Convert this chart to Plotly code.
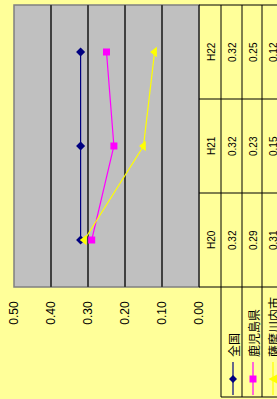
import plotly.graph_objects as go

# ---- data ----
categories = ["H20", "H21", "H22"]
series_names = ["全国", "鹿児島県", "薩摩川内市"]
zenkoku = [0.32, 0.32, 0.32]
kagoshima = [0.29, 0.23, 0.25]
satsumasendai = [0.31, 0.15, 0.12]
value_ticks = [0.0, 0.1, 0.2, 0.3, 0.4, 0.5]

series_values = [zenkoku, kagoshima, satsumasendai]
colors = ["#000080", "#FF00FF", "#FFFF00"]
symbols = ["diamond", "square", "triangle-left"]
msizes = [7, 7, 9]

FIG_W, FIG_H = 277, 399
L, T, R, B = 14, 5, 199, 287
PW, PH = R - L, B - T


def X(px):
    return (px - L) / PW


def Y(py):
    return (B - py) / PH


fig = go.Figure()
for name, vals, c, s, ms in zip(series_names, series_values, colors, symbols, msizes):
    fig.add_trace(go.Scatter(
        x=vals, y=categories, mode="lines+markers", name=name,
        line=dict(color=c, width=1.2),
        marker=dict(symbol=s, size=ms, color=c, line=dict(width=0)),
        showlegend=False, cliponaxis=False,
    ))

shapes = []
annotations = []
LINE = dict(color="#000000", width=1)

# plot frame
shapes.append(dict(type="rect", xref="paper", yref="paper", x0=0, x1=1, y0=0, y1=1,
                   line=dict(color="#808080", width=1.5), layer="below"))

# table grid
row_y = [T, 99, 193, B]
for xv in [221, 242, 262]:
    shapes.append(dict(type="line", xref="paper", yref="paper",
                       x0=X(xv), x1=X(xv), y0=Y(T), y1=Y(397), line=LINE))
shapes.append(dict(type="line", xref="paper", yref="paper",
                   x0=X(R), x1=X(R), y0=Y(T), y1=Y(B), line=LINE))
for yv in row_y:
    shapes.append(dict(type="line", xref="paper", yref="paper",
                       x0=X(R), x1=X(FIG_W + 2), y0=Y(yv), y1=Y(yv), line=LINE))
shapes.append(dict(type="line", xref="paper", yref="paper",
                   x0=X(221), x1=X(FIG_W + 2), y0=Y(397), y1=Y(397), line=LINE))

TXT = dict(family="Liberation Sans, Arial, sans-serif", size=10, color="#000000")
col_centers = [211, 232, 253, 273]
for i, cat in enumerate(categories):
    annotations.append(dict(x=X(col_centers[0]), y=cat, xref="paper", yref="y",
                            text=cat, textangle=-90, showarrow=False, font=TXT,
                            xanchor="center", yanchor="middle"))
    for j, vals in enumerate(series_values):
        annotations.append(dict(x=X(col_centers[j + 1]), y=cat, xref="paper", yref="y",
                                text=f"{vals[i]:.2f}", textangle=-90, showarrow=False,
                                font=TXT, xanchor="center", yanchor="middle"))

# legend cells
leg_x = [233, 253, 273]
for name, c, s, lx in zip(series_names, colors, symbols, leg_x):
    annotations.append(dict(x=X(lx), y=Y(359), xref="paper", yref="paper",
                            text=name, textangle=-90, showarrow=False,
                            font=dict(family="Noto Sans CJK JP", size=12, color="#000000"),
                            xanchor="center", yanchor="bottom"))
    shapes.append(dict(type="line", xref="paper", yref="paper",
                       x0=X(lx), x1=X(lx), y0=Y(362), y1=Y(395),
                       line=dict(color=c, width=1.2)))
    cy = 379
    if s == "diamond":
        path = (f"M {X(lx)},{Y(cy-4)} L {X(lx+4)},{Y(cy)} L {X(lx)},{Y(cy+4)} "
                f"L {X(lx-4)},{Y(cy)} Z")
    elif s == "square":
        path = (f"M {X(lx-3.5)},{Y(cy-3.5)} L {X(lx+3.5)},{Y(cy-3.5)} L {X(lx+3.5)},{Y(cy+3.5)} "
                f"L {X(lx-3.5)},{Y(cy+3.5)} Z")
    else:
        path = (f"M {X(lx+4)},{Y(cy-4.5)} L {X(lx+4)},{Y(cy+4.5)} L {X(lx-4.5)},{Y(cy)} Z")
    shapes.append(dict(type="path", xref="paper", yref="paper", path=path,
                       fillcolor=c, line=dict(width=0)))

fig.update_layout(
    width=FIG_W, height=FIG_H,
    margin=dict(l=L, r=FIG_W - R, t=T, b=FIG_H - B, pad=0),
    paper_bgcolor="#FFFF99", plot_bgcolor="#C0C0C0",
    shapes=shapes, annotations=annotations,
    showlegend=False,
    xaxis=dict(range=[0.5, 0.0], tickvals=value_ticks, tickformat=".2f",
               tickangle=-90, showgrid=True, gridcolor="#404040", gridwidth=1.5,
               zeroline=False, showline=False, ticks="", ticklabelstandoff=11,
               tickfont=dict(family="Liberation Sans, Arial, sans-serif", size=12,
                             color="#000000"),
               fixedrange=True),
    yaxis=dict(type="category", categoryorder="array", categoryarray=categories,
               range=[-0.5, 2.5], showticklabels=False, showgrid=False,
               zeroline=False, showline=False, ticks="", fixedrange=True),
)

fig.write_html(
    "out.html",
    config={"displayModeBar": False},
    post_script="document.body.style.margin='0';document.body.style.padding='0';"
                "document.body.style.background='#FFFF99';",
)
